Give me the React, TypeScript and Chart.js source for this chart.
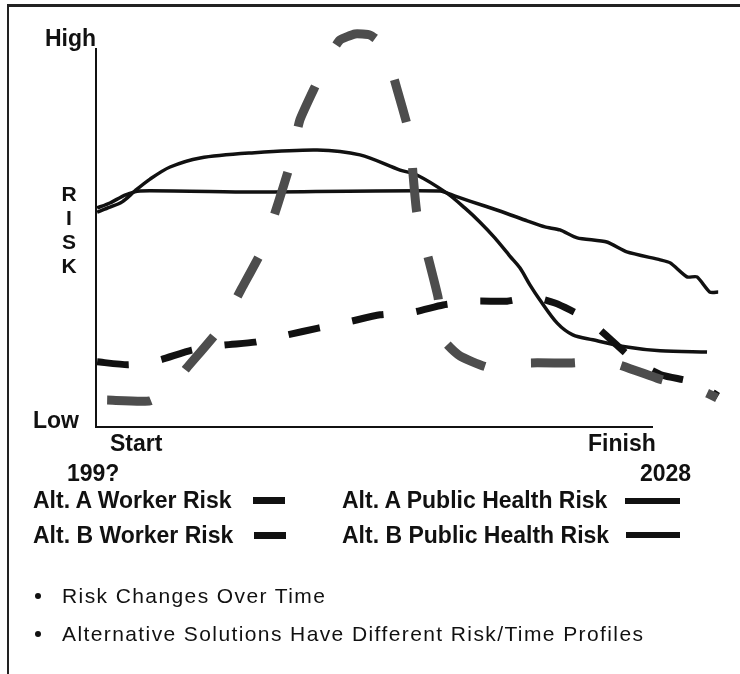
import React, { useEffect, useRef } from "react";
import { Chart, registerables } from "chart.js";

Chart.register(...registerables);

// Time progress (0 = Start 199?, 100 = Finish 2028) vs. relative risk (0 = Low, 100 = High)
const altAWorkerRisk: [number, number][] = [
  [2.0, 7.1], [9.7, 6.9], [13.3, 10.3], [16.3, 15.6], [22.3, 26.1], [26.2, 36.7],
  [30.0, 47.2], [32.7, 59.1], [34.8, 69.1], [36.6, 81.0], [39.7, 91.0], [42.0, 98.2],
  [43.8, 102.1], [46.5, 103.7], [49.2, 103.4], [51.5, 100.8], [52.8, 95.5], [54.0, 89.4],
  [56.0, 78.9], [56.6, 73.1], [56.9, 67.0], [57.6, 56.5], [59.6, 44.9], [61.4, 34.3],
  [61.9, 28.2], [62.7, 22.4], [65.4, 18.7], [70.2, 15.8], [73.8, 16.1], [77.6, 16.9],
  [85.1, 16.9], [88.7, 17.2], [92.8, 16.9], [100.7, 12.9], [104.8, 11.1], [108.4, 9.8],
  [111.5, 7.7],
];

const altBWorkerRisk: [number, number][] = [
  [0.2, 17.2], [5.7, 16.4], [8.6, 16.9], [11.5, 17.7], [17.2, 20.3], [22.8, 21.6],
  [28.5, 22.4], [34.3, 24.3], [39.9, 26.1], [45.2, 27.7], [51.0, 29.6], [56.9, 30.3],
  [62.3, 32.2], [68.0, 33.2], [73.8, 33.2], [77.0, 34.0], [79.4, 34.0], [82.4, 32.7],
  [85.1, 30.9], [87.8, 28.8], [90.5, 25.6], [95.9, 18.5], [98.7, 15.8], [101.6, 13.7],
  [107.9, 11.6], [111.7, 8.2],
];

const altAPublicRisk: [number, number][] = [
  [0.2, 56.7], [2.5, 58.0], [4.7, 59.4], [7.0, 62.3], [9.7, 65.4], [13.3, 68.6],
  [18.7, 71.0], [27.6, 72.3], [39.7, 73.1], [47.4, 71.8], [54.6, 67.8], [57.6, 66.5],
  [63.0, 61.7], [66.2, 57.8], [68.9, 54.1], [71.6, 49.9], [74.3, 45.1], [76.1, 42.0],
  [77.9, 37.5], [79.7, 33.5], [82.8, 27.4], [85.6, 24.3], [89.2, 23.0], [95.3, 21.1],
  [101.3, 20.1], [109.7, 19.8],
];

const altBPublicRisk: [number, number][] = [
  [0.2, 57.8], [2.5, 59.1], [5.2, 61.2], [7.9, 62.3], [27.6, 62.0], [61.8, 62.3],
  [64.5, 60.9], [67.1, 59.6], [72.5, 57.0], [77.4, 54.4], [80.6, 52.8], [83.3, 52.0],
  [86.4, 49.9], [91.7, 48.8], [95.3, 46.2], [101.3, 44.1], [103.1, 43.3], [106.1, 39.6],
  [107.9, 39.6], [110.2, 35.6], [111.7, 35.6],
];

const yLabels = ["High", "Low"];
const riskLetters = ["R", "I", "S", "K"];
const xLabels = ["Start", "Finish"];
const yearLabels = ["199?", "2028"];
const legendLabels = [
  "Alt. A Worker Risk",
  "Alt. B Worker Risk",
  "Alt. A Public Health Risk",
  "Alt. B Public Health Risk",
];
const bullets = [
  "Risk Changes Over Time",
  "Alternative Solutions Have Different Risk/Time Profiles",
];

const toPts = (arr: [number, number][]) => arr.map(([x, y]) => ({ x, y }));

const axisPlugin = {
  id: "axisLines",
  afterDraw(chart: any) {
    const { ctx, scales } = chart;
    const x0 = scales.x.getPixelForValue(0);
    const x1 = scales.x.getPixelForValue(100);
    const y0 = scales.y.getPixelForValue(0);
    const y1 = scales.y.getPixelForValue(100);
    ctx.save();
    ctx.strokeStyle = "#111";
    ctx.lineWidth = 2;
    ctx.beginPath();
    ctx.moveTo(x0, y1);
    ctx.lineTo(x0, y0);
    ctx.lineTo(x1, y0);
    ctx.stroke();
    ctx.restore();
  },
};

const fontFamily = '"Liberation Sans", Arial, sans-serif';

function Label({ text, left, cy, size = 23, bold = true, extra = {} }: any) {
  return (
    <div
      style={{
        position: "absolute",
        left,
        top: cy - 14,
        height: 28,
        lineHeight: "28px",
        fontFamily,
        fontWeight: bold ? 700 : 400,
        fontSize: size,
        color: "#111",
        whiteSpace: "nowrap",
        ...extra,
      }}
    >
      {text}
    </div>
  );
}

function Swatch({ left, cy, width, height }: any) {
  return (
    <div
      style={{
        position: "absolute",
        left,
        top: cy - height / 2,
        width,
        height,
        background: "#111",
      }}
    />
  );
}

export default function App() {
  const canvasRef = useRef<HTMLCanvasElement | null>(null);

  useEffect(() => {
    if (!canvasRef.current) return;
    const chart = new Chart(canvasRef.current, {
      type: "line",
      data: {
        datasets: [
          {
            label: legendLabels[0],
            data: toPts(altAWorkerRisk),
            borderColor: "#4d4d4d",
            borderWidth: 9,
            borderDash: [44, 46.5],
            borderCapStyle: "butt",
            tension: 0.15,
            clip: false,
          },
          {
            label: legendLabels[1],
            data: toPts(altBWorkerRisk),
            borderColor: "#111",
            borderWidth: 7,
            borderDash: [32, 33],
            borderCapStyle: "butt",
            tension: 0.2,
            clip: false,
          },
          {
            label: legendLabels[2],
            data: toPts(altAPublicRisk),
            borderColor: "#111",
            borderWidth: 3.5,
            tension: 0.3,
            clip: false,
          },
          {
            label: legendLabels[3],
            data: toPts(altBPublicRisk),
            borderColor: "#111",
            borderWidth: 3.5,
            tension: 0.2,
            clip: false,
          },
        ] as any,
      },
      options: {
        animation: false,
        responsive: false,
        events: [],
        layout: { padding: { left: 96, right: 20.16, top: 29.05, bottom: 247 } },
        elements: { point: { radius: 0 } },
        plugins: { legend: { display: false }, tooltip: { enabled: false } },
        scales: {
          x: { type: "linear", min: 0, max: 112, display: false },
          y: { type: "linear", min: 0, max: 105, display: false },
        },
      },
      plugins: [axisPlugin],
    });
    return () => chart.destroy();
  }, []);

  return (
    <div
      style={{
        position: "fixed",
        left: 0,
        top: 0,
        width: 740,
        height: 674,
        background: "#fff",
        overflow: "hidden",
      }}
    >
      <div
        style={{
          position: "absolute",
          left: 7,
          top: 4,
          width: 740,
          height: 680,
          borderTop: "3px solid #222",
          borderLeft: "2px solid #222",
        }}
      />
      <canvas
        ref={canvasRef}
        width={740}
        height={674}
        style={{ position: "absolute", left: 0, top: 0, width: 740, height: 674 }}
      />
      <Label text={yLabels[0]} left={45} cy={38} />
      <Label text={yLabels[1]} left={33} cy={420} />
      {riskLetters.map((t, i) => (
        <Label
          key={t}
          text={t}
          left={58}
          cy={194 + i * 24}
          size={21}
          extra={{ width: 22, textAlign: "center" }}
        />
      ))}
      <Label text={xLabels[0]} left={110} cy={443} />
      <Label text={xLabels[1]} left={588} cy={443} />
      <Label text={yearLabels[0]} left={67} cy={473} />
      <Label text={yearLabels[1]} left={640} cy={473} />

      <Label text={legendLabels[0]} left={33} cy={500} />
      <Swatch left={253} cy={500} width={32} height={7} />
      <Label text={legendLabels[2]} left={342} cy={500} />
      <Swatch left={625} cy={501} width={55} height={6} />
      <Label text={legendLabels[1]} left={33} cy={535} />
      <Swatch left={254} cy={535} width={32} height={7} />
      <Label text={legendLabels[3]} left={342} cy={535} />
      <Swatch left={626} cy={535} width={54} height={6} />

      {bullets.map((b, i) => (
        <React.Fragment key={b}>
          <div
            style={{
              position: "absolute",
              left: 35,
              top: 596 + i * 38 - 3,
              width: 6,
              height: 6,
              borderRadius: 3,
              background: "#111",
            }}
          />
          <Label
            text={b}
            left={62}
            cy={596 + i * 38}
            size={21}
            bold={false}
            extra={{ letterSpacing: "1.4px" }}
          />
        </React.Fragment>
      ))}
    </div>
  );
}
